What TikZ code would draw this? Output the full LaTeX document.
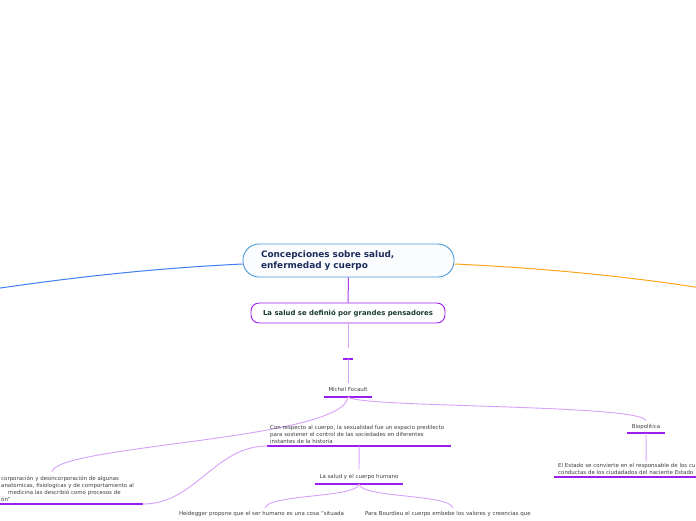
\documentclass[tikz,border=0pt]{standalone}
\usepackage{fontspec}
\setmainfont{DejaVu Sans}
\usepackage{xcolor}
\definecolor{mmblue}{RGB}{61,126,245}
\definecolor{mmorange}{RGB}{255,163,26}
\definecolor{mmsky}{RGB}{74,155,217}
\definecolor{mmnavy}{RGB}{27,44,92}
\definecolor{mmpurple}{RGB}{155,30,240}
\definecolor{mmviolet}{RGB}{170,60,235}
\definecolor{mmlilac}{RGB}{214,160,250}
\definecolor{mmgreen}{RGB}{26,58,46}
\definecolor{mmgray}{RGB}{60,60,60}
\usetikzlibrary{positioning}

\begin{document}
\begin{tikzpicture}[x=1pt, y=-1pt,
  note/.style={font=\fontsize{5.45}{7}\selectfont, text=mmgray, inner xsep=3pt, inner ysep=2pt, align=left},
  topic/.style={font=\fontsize{5.45}{7}\selectfont, text=mmgray, inner sep=1pt, minimum height=14pt},
  uline/.style={mmpurple, line width=1.8pt},
  link/.style={mmlilac, line width=0.9pt}]
  \useasboundingbox (0,0) rectangle (696,520);
  \clip (0,0) rectangle (696,520);

  % --- Central topic ---
  \node[draw=mmsky, fill=mmsky!3, line width=0.9pt, rounded corners=16pt,
        minimum width=211pt, minimum height=33pt, inner xsep=18pt, text width=175pt,
        align=left, text=mmnavy, font=\fontsize{8.9}{11}\selectfont\bfseries]
        (main) at (348.5,260.5) {Concepciones sobre salud,\\enfermedad y cuerpo};
  \coordinate (blueend) at (-20,291);
  \coordinate (orangeend) at (720,291);
  \draw[mmblue, line width=1pt] ([yshift=-3.5pt]main.west) .. controls (160,268) and (80,276) .. (blueend);
  \draw[mmorange, line width=1pt] ([yshift=-3.5pt]main.east) .. controls (540,268) and (630,276) .. (orangeend);

  % --- Main branch ---
  \node[draw=mmpurple, line width=0.9pt, rounded corners=8pt, minimum width=194pt,
        minimum height=20pt, text=mmgreen, font=\fontsize{6.9}{8}\selectfont\bfseries]
        (pens) at (348,313) {La salud se definió por grandes pensadores};
  \draw[mmviolet, line width=1pt] (main.south) -- (pens.north);

  \node[topic, minimum width=10pt, minimum height=11pt, anchor=south] (blank) at (348,359) {};
  \draw[uline] (blank.south west) -- (blank.south east);
  \draw[link] (pens.south) -- (blank.north);

  \node[topic, minimum width=48pt, anchor=south] (foc) at (348,397) {Michel Focault};
  \draw[uline] (foc.south west) -- (foc.south east);
  \draw[link] (blank.south) -- (foc.north);

  % --- Left: incorporacion ---
  \node[note, text width=140pt, inner xsep=2pt, anchor=south west] (incorp) at (-1,504)
       {corporación y desincorporación de algunas\\anatomicas, fisiologicas y de comportamiento al\\\hspace*{7pt}medicina las describió como procesos de\\ón”};
  \draw[uline] (incorp.south west) -- (incorp.south east);
  \coordinate (incorptop) at (52,472);
  \draw[link] (foc.south) .. controls (343,440) and (55,445) .. (incorptop);

  % --- Con respecto al cuerpo ---
  \node[note, text width=178pt, anchor=south west] (crsp) at (267,446)
       {Con respecto al cuerpo, la sexualidad fue un espacio predilecto\\para sostener el control de las sociedades en diferentes\\instantes de la historia};
  \draw[uline] (crsp.south west) -- (crsp.south east);
  \draw[link] (crsp.south west) .. controls (215,446) and (195,504) .. (incorp.south east);

  \node[topic, minimum width=88pt, anchor=south] (cuerpo) at (359,484) {La salud y el cuerpo humano};
  \draw[uline] (cuerpo.south west) -- (cuerpo.south east);
  \draw[link] (crsp.south) -- (cuerpo.north);

  \node[note, text width=172pt, inner xsep=4pt, inner ysep=3.5pt, anchor=north] (heid) at (265,508)
       {Heidegger propone que el ser humano es una cosa “situada};
  \node[note, text width=176pt, inner xsep=4pt, inner ysep=3.5pt, anchor=north] (bourd) at (453,508)
       {Para Bourdieu el cuerpo embebe los valores y creencias que};
  \draw[link] (cuerpo.south) .. controls (357,498) and (268,494) .. (heid.north);
  \draw[link] (cuerpo.south) .. controls (361,498) and (450,494) .. (bourd.north);

  % --- Right: Biopolitica ---
  \node[topic, minimum width=38pt, minimum height=12pt, anchor=south] (bio) at (646,433) {Biopolítica};
  \draw[uline] (bio.south west) -- (bio.south east);
  \draw[link] (foc.south) .. controls (360,408) and (640,404) .. (bio.north);

  \node[note, text width=176pt, inner xsep=4pt, anchor=south west] (estado) at (554,477)
       {El Estado se convierte en el responsable de los cu\\conductas de los ciudadados del naciente Estado};
  \draw[uline] (estado.south west) -- (estado.south east);
  \draw[link] (bio.south) -- (estado.north);
\end{tikzpicture}
\end{document}
